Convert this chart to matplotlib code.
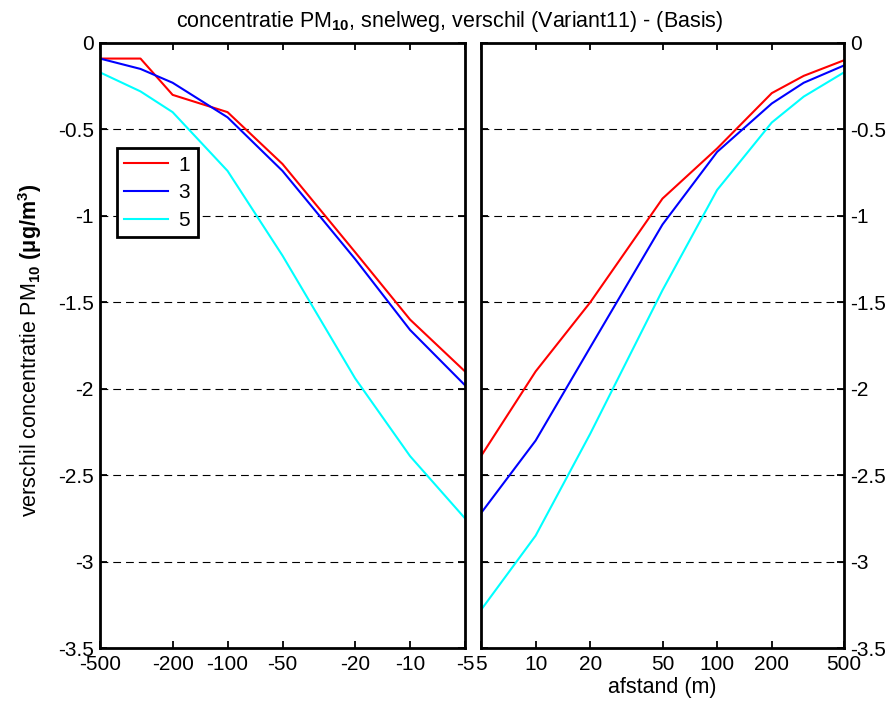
import matplotlib
matplotlib.use("Agg")
import matplotlib.pyplot as plt

# data
x_left = [-500, -300, -200, -100, -50, -20, -10, -5]
x_right = [5, 10, 20, 50, 100, 200, 300, 500]
series_labels = ["1", "3", "5"]
series_colors = ["#ff0000", "#0000ff", "#00ffff"]
left_values = [
    [-0.09, -0.09, -0.30, -0.40, -0.70, -1.21, -1.60, -1.90],
    [-0.09, -0.15, -0.23, -0.43, -0.74, -1.25, -1.66, -1.98],
    [-0.17, -0.28, -0.40, -0.74, -1.23, -1.94, -2.39, -2.75],
]
right_values = [
    [-2.39, -1.90, -1.50, -0.90, -0.61, -0.29, -0.19, -0.10],
    [-2.72, -2.30, -1.76, -1.05, -0.63, -0.35, -0.23, -0.13],
    [-3.28, -2.85, -2.26, -1.43, -0.85, -0.46, -0.31, -0.17],
]
xticks_left = [-500, -200, -100, -50, -20, -10, -5]
xticks_right = [5, 10, 20, 50, 100, 200, 500]
yticks = [0, -0.5, -1, -1.5, -2, -2.5, -3, -3.5]
ytick_labels = ["0", "-0.5", "-1", "-1.5", "-2", "-2.5", "-3", "-3.5"]
grid_levels = [-0.5, -1, -1.5, -2, -2.5, -3]

family = "Liberation Sans"
plt.rcParams["font.family"] = [family, "DejaVu Sans"]
plt.rcParams["mathtext.fontset"] = "custom"
plt.rcParams["mathtext.rm"] = family
plt.rcParams["mathtext.it"] = family
plt.rcParams["mathtext.bf"] = family + ":bold"

fig = plt.figure(figsize=(8.91, 7.04), dpi=100)
ax_l = fig.add_axes([100 / 891, 56 / 704, 365 / 891, 605 / 704])
ax_r = fig.add_axes([481 / 891, 56 / 704, 363 / 891, 605 / 704])

for vals, lab, col in zip(left_values, series_labels, series_colors):
    ax_l.plot(x_left, vals, color=col, lw=1.5, label=lab)
for vals, lab, col in zip(right_values, series_labels, series_colors):
    ax_r.plot(x_right, vals, color=col, lw=1.5, label=lab)

ax_l.set_xscale("symlog", linthresh=1)
ax_l.set_xlim(-500, -5)
ax_r.set_xscale("log")
ax_r.set_xlim(5, 500)
ax_l.set_xticks(xticks_left, labels=[str(t) for t in xticks_left])
ax_r.set_xticks(xticks_right, labels=[str(t) for t in xticks_right])

for ax in (ax_l, ax_r):
    ax.set_ylim(-3.5, 0)
    ax.set_yticks(yticks, labels=ytick_labels)
    ax.minorticks_off()
    for lv in grid_levels:
        ax.axhline(lv, color="k", lw=0.8, ls=(0, (7, 4.5)), zorder=0)
    for s in ax.spines.values():
        s.set_linewidth(2.0)
    ax.tick_params(direction="in", length=5, width=1.3, top=True, right=True,
                   labelsize=15)
    ax.tick_params(axis="x", pad=5)
    ax.tick_params(axis="y", pad=4.5)

ax_r.tick_params(labelleft=False, labelright=True)

leg = ax_l.legend(loc="upper left", bbox_to_anchor=(0.047, 0.826),
                  borderaxespad=0, fancybox=False, framealpha=1,
                  edgecolor="k", handlelength=2.1, handletextpad=0.5,
                  fontsize=15, labelspacing=0.42, borderpad=0.35)
leg.get_frame().set_linewidth(2.0)

fig.text(450 / 891, 1 - 21 / 704,
         r"concentratie PM$_{\mathbf{10}}$, snelweg, verschil (Variant11) - (Basis)",
         ha="center", va="center", fontsize=15.5)
fig.text(30 / 891, 1 - 350 / 704,
         r"verschil concentratie PM$_{\mathbf{10}}$ $\mathbf{(\mu g/m^3)}$",
         rotation=90, ha="center", va="center", fontsize=15.5)
fig.text(662 / 891, 1 - 688 / 704, "afstand (m)",
         ha="center", va="center", fontsize=15.5)

fig.savefig("out.png", dpi=100)
